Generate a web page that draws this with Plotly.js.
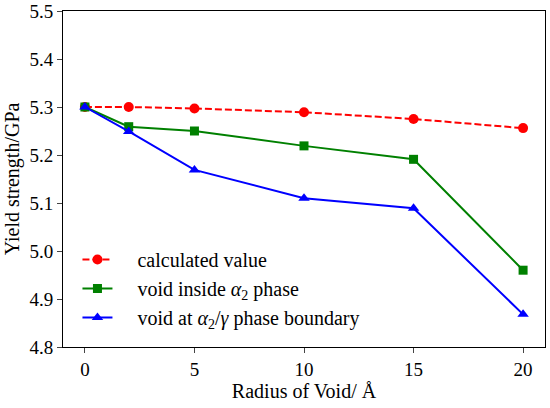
<!DOCTYPE html>
<html><head><meta charset="utf-8">
<script src="https://cdn.plot.ly/plotly-3.0.1.min.js"></script>
<style>body{margin:0;background:#fff}#c{width:550px;height:408px}</style>
</head><body><div id="c"></div>
<script>
const radius = [0, 2, 5, 10, 15, 20];
const calculated = [5.300, 5.300, 5.297, 5.289, 5.275, 5.256];
const voidInside = [5.300, 5.259, 5.250, 5.219, 5.191, 4.960];
const voidBoundary = [5.300, 5.249, 5.169, 5.110, 5.089, 4.868];
const xTicks = [0, 5, 10, 15, 20];
const yTicks = [4.8, 4.9, 5.0, 5.1, 5.2, 5.3, 5.4, 5.5];

const F = "'Liberation Serif', 'DejaVu Serif', serif";
const pad = '&nbsp;&nbsp;&nbsp;&nbsp;';
const traces = [
  {x: radius, y: calculated, name: pad + 'calculated value', mode: 'lines+markers',
   line: {color: '#ff0000', dash: '7px,3px', width: 2}, marker: {symbol: 'circle', size: 10, color: '#ff0000'}},
  {x: radius, y: voidInside, name: pad + 'void inside <i>α</i><sub>2</sub> phase', mode: 'lines+markers',
   line: {color: '#008000', width: 2}, marker: {symbol: 'square', size: 9, color: '#008000'}},
  {x: radius, y: voidBoundary, name: pad + 'void at <i>α</i><sub>2</sub>/<i>γ</i> phase boundary', mode: 'lines+markers',
   line: {color: '#0000ff', width: 2}, marker: {symbol: 'triangle-up', size: 10, color: '#0000ff'}}
];
const layout = {
  width: 550, height: 408,
  margin: {l: 63, r: 5, t: 11, b: 61},
  paper_bgcolor: '#fff', plot_bgcolor: '#fff',
  font: {family: F, size: 19, color: '#000'},
  showlegend: true,
  legend: {x: 0.03, y: 0.03, xanchor: 'left', yanchor: 'bottom', bgcolor: 'rgba(255,255,255,0.8)',
           font: {family: F, size: 20}, tracegroupgap: 0},
  xaxis: {range: [-1, 21], tickvals: xTicks, ticktext: xTicks.map(String), ticks: 'outside', ticklen: 5,
          tickfont: {family: F, size: 19},
          showline: true, mirror: true, linecolor: '#000', linewidth: 1, showgrid: false, zeroline: false,
          title: {text: 'Radius of Void/ Å', font: {family: F, size: 20}, standoff: 5}},
  yaxis: {range: [4.8, 5.5], tickvals: yTicks, ticktext: yTicks.map(v => v.toFixed(1)), ticks: 'outside', ticklen: 5,
          tickfont: {family: F, size: 19},
          showline: true, mirror: true, linecolor: '#000', linewidth: 1, showgrid: false, zeroline: false,
          title: {text: 'Yield strength/GPa', font: {family: F, size: 20}, standoff: 4}}
};
Plotly.newPlot('c', traces, layout, {staticPlot: true});
</script></body></html>
